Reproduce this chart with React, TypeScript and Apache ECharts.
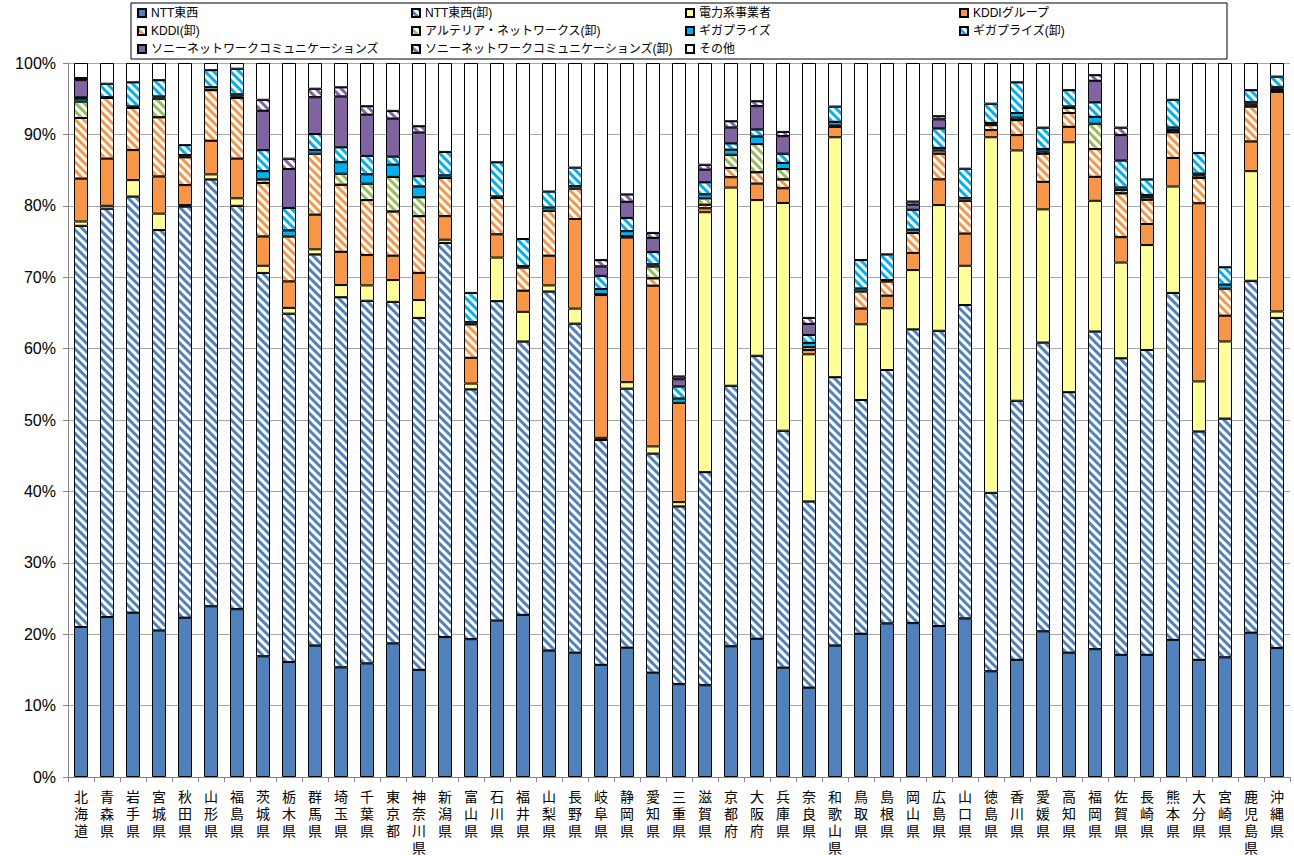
import React, { useEffect, useRef } from "react";
import * as echarts from "echarts";

const prefectures = [
  "北海道", "青森県", "岩手県", "宮城県", "秋田県", "山形県", "福島県", "茨城県", "栃木県", "群馬県",
  "埼玉県", "千葉県", "東京都", "神奈川県", "新潟県", "富山県", "石川県", "福井県", "山梨県", "長野県",
  "岐阜県", "静岡県", "愛知県", "三重県", "滋賀県", "京都府", "大阪府", "兵庫県", "奈良県", "和歌山県",
  "鳥取県", "島根県", "岡山県", "広島県", "山口県", "徳島県", "香川県", "愛媛県", "高知県", "福岡県",
  "佐賀県", "長崎県", "熊本県", "大分県", "宮崎県", "鹿児島県", "沖縄県",
];

const yTicks = [0, 10, 20, 30, 40, 50, 60, 70, 80, 90, 100];

const nttEastWest = [
  21.0, 22.4, 23.0, 20.5, 22.3, 23.9, 23.5, 16.9, 16.1, 18.4,
  15.35, 15.9, 18.7, 15.0, 19.6, 19.3, 21.9, 22.7, 17.7, 17.4,
  15.7, 18.1, 14.6, 13.0, 12.85, 18.3, 19.35, 15.3, 12.5, 18.4,
  20.05, 21.5, 21.55, 21.15, 22.2, 14.8, 16.4, 20.4, 17.4, 17.9,
  17.1, 17.1, 19.2, 16.4, 16.75, 20.2, 18.05,
];
const nttWholesale = [
  56.2, 57.2, 58.3, 56.1, 57.6, 59.8, 56.5, 53.7, 48.8, 54.8,
  51.85, 50.8, 47.85, 49.3, 55.2, 35.0, 44.75, 38.3, 50.3, 46.1,
  31.5, 36.3, 30.7, 24.9, 29.85, 36.5, 39.65, 33.2, 26.1, 37.6,
  32.75, 35.5, 41.15, 41.35, 43.9, 25.0, 36.3, 40.45, 36.5, 44.5,
  41.55, 42.7, 48.6, 32.0, 33.45, 49.3, 46.25,
];
const powerCompanies = [
  0.6, 0.4, 2.3, 2.3, 0.2, 0.7, 1.05, 1.0, 0.8, 0.7,
  1.7, 2.15, 3.05, 2.5, 0.45, 0.8, 6.1, 4.15, 0.85, 2.1,
  0.3, 0.9, 1.0, 0.6, 36.4, 27.75, 21.8, 31.9, 20.6, 33.6,
  10.6, 8.65, 8.3, 17.6, 5.5, 49.8, 35.05, 18.65, 35.0, 18.3,
  13.4, 14.7, 14.9, 7.0, 10.8, 15.35, 0.9,
];
const kddiGroup = [
  6.0, 6.6, 4.2, 5.2, 2.8, 4.7, 5.55, 4.1, 3.7, 4.85,
  4.65, 4.25, 3.4, 3.8, 3.3, 3.6, 3.25, 2.95, 4.15, 12.55,
  20.0, 20.25, 22.5, 13.9, 0.55, 1.45, 2.3, 2.05, 0.6, 1.45,
  2.2, 1.75, 2.4, 3.6, 4.5, 1.0, 2.15, 3.85, 2.15, 3.35,
  3.55, 2.95, 4.0, 24.95, 3.6, 4.15, 30.75,
];
const kddiWholesale = [
  8.5, 8.5, 5.9, 8.3, 3.9, 7.1, 8.5, 7.5, 6.3, 8.55,
  9.4, 7.7, 6.2, 7.95, 5.35, 4.7, 5.1, 3.25, 6.3, 4.25,
  0.15, 0.2, 1.05, 0, 0.5, 1.3, 1.6, 1.25, 0.4, 0.2,
  2.4, 2.0, 2.8, 3.6, 4.6, 0.7, 2.1, 3.95, 1.95, 3.9,
  6.15, 3.4, 3.6, 3.55, 3.8, 4.9, 0.2,
];
const arteriaWholesale = [
  2.3, 0, 0, 2.6, 0, 0.4, 0.2, 0.5, 0, 0,
  1.55, 2.3, 4.85, 2.65, 0, 0, 0, 0, 0, 0,
  0, 0, 1.65, 0, 0.9, 1.85, 3.95, 1.45, 0, 0,
  0, 0, 0, 0.45, 0, 0, 0.35, 0.3, 0.7, 3.55,
  0.45, 0.35, 0.3, 0.35, 0, 0.3, 0.25,
];
const gigaprize = [
  0.4, 0.1, 0.2, 0.3, 0.3, 0, 0.3, 1.15, 0.85, 0.5,
  1.6, 1.3, 1.7, 1.5, 0.35, 0.3, 0.2, 0.2, 0.45, 0.35,
  0.7, 0.7, 0.3, 0.6, 0.55, 0.7, 1.05, 0.85, 0.6, 0.5,
  0.4, 0.2, 0.45, 0.35, 0.35, 0.3, 0.65, 0.35, 0.2, 0.95,
  0.35, 0.3, 0.35, 0.25, 0.55, 0.3, 0.2,
];
const gigaprizeWholesale = [
  0.2, 1.9, 3.4, 2.3, 1.4, 2.4, 3.6, 2.95, 3.15, 2.25,
  2.1, 2.6, 1.15, 1.45, 3.3, 4.1, 4.8, 3.8, 2.25, 2.6,
  1.85, 1.85, 1.75, 1.7, 1.7, 0.9, 1.0, 1.3, 1.1, 2.15,
  4.0, 3.6, 2.8, 2.75, 4.15, 2.7, 4.3, 3.0, 2.3, 2.05,
  3.8, 2.2, 3.9, 2.9, 2.45, 1.7, 1.5,
];
const sonyNetwork = [
  2.4, 0, 0, 0, 0, 0, 0, 5.5, 5.45, 5.15,
  7.1, 5.75, 5.3, 6.1, 0, 0, 0, 0, 0, 0,
  1.3, 2.25, 1.95, 1.0, 1.75, 2.2, 3.25, 2.45, 1.55, 0,
  0, 0, 0.7, 1.25, 0, 0, 0, 0, 0, 3.0,
  3.55, 0, 0, 0, 0, 0, 0,
];
const sonyNetworkWholesale = [
  0.3, 0, 0, 0, 0, 0, 0, 1.55, 1.45, 1.2,
  1.3, 1.2, 1.1, 0.9, 0, 0, 0, 0, 0, 0,
  0.9, 1.05, 0.7, 0.4, 0.7, 0.9, 0.7, 0.6, 0.85, 0,
  0, 0, 0.45, 0.45, 0, 0, 0, 0, 0, 0.8,
  1.05, 0, 0, 0, 0, 0, 0,
];
const others = [
  2.1, 2.9, 2.7, 2.4, 11.5, 1.0, 0.8, 5.15, 13.4, 3.6,
  3.4, 6.05, 6.7, 8.85, 12.45, 32.2, 13.9, 24.65, 18.0, 14.65,
  27.6, 18.4, 23.8, 43.9, 14.25, 8.15, 5.35, 9.65, 35.7, 6.1,
  27.6, 26.8, 19.4, 7.45, 14.8, 5.7, 2.7, 9.05, 3.8, 1.7,
  9.05, 16.3, 5.15, 12.6, 28.6, 3.8, 1.9,
];

const seriesDefs = [
  { name: "NTT東西", data: nttEastWest, color: "#4F81BD", hatch: false },
  { name: "NTT東西(卸)", data: nttWholesale, color: "#4F81BD", hatch: true },
  { name: "電力系事業者", data: powerCompanies, color: "#FFFF99", hatch: false },
  { name: "KDDIグループ", data: kddiGroup, color: "#F79646", hatch: false },
  { name: "KDDI(卸)", data: kddiWholesale, color: "#F79646", hatch: true },
  { name: "アルテリア・ネットワークス(卸)", data: arteriaWholesale, color: "#9BBB59", hatch: true },
  { name: "ギガプライズ", data: gigaprize, color: "#00B0F0", hatch: false },
  { name: "ギガプライズ(卸)", data: gigaprizeWholesale, color: "#00B0F0", hatch: true },
  { name: "ソニーネットワークコミュニケーションズ", data: sonyNetwork, color: "#8064A2", hatch: false },
  { name: "ソニーネットワークコミュニケーションズ(卸)", data: sonyNetworkWholesale, color: "#8064A2", hatch: true },
  { name: "その他", data: others, color: "#FFFFFF", hatch: false },
];

const legendColumns = [
  ["NTT東西", "KDDI(卸)", "ソニーネットワークコミュニケーションズ"],
  ["NTT東西(卸)", "アルテリア・ネットワークス(卸)", "ソニーネットワークコミュニケーションズ(卸)"],
  ["電力系事業者", "ギガプライズ", "その他"],
  ["KDDIグループ", "ギガプライズ(卸)"],
];
const legendLefts = [137, 411, 685, 959];

const FONT = "'Liberation Sans', Arial, 'Noto Sans CJK JP', sans-serif";

export default function App() {
  const ref = useRef<HTMLDivElement>(null);

  useEffect(() => {
    if (!ref.current) return;
    const chart = echarts.init(ref.current, undefined, { renderer: "svg" });

    const series = seriesDefs.map((s) => ({
      name: s.name,
      type: "bar",
      stack: "total",
      barWidth: 14,
      data: s.data.map((v) => (v === 0 ? null : v)),
      itemStyle: s.hatch
        ? {
            color: "#FFFFFF",
            borderColor: "#000000",
            borderWidth: 1,
            decal: {
              symbol: "rect",
              symbolSize: 1,
              dashArrayX: [1, 0],
              dashArrayY: [3, 3],
              rotation: Math.PI / 4,
              color: s.color,
              backgroundColor: "#FFFFFF",
            },
          }
        : { color: s.color, borderColor: "#000000", borderWidth: 1 },
    }));

    const legends = legendColumns.map((names, i) => ({
      data: names,
      left: legendLefts[i],
      top: 4,
      orient: "vertical",
      icon: "rect",
      itemWidth: 8,
      itemHeight: 8,
      itemGap: 0,
      padding: 0,
      selectedMode: false,
      textStyle: { fontSize: 12, lineHeight: 18, color: "#000", fontFamily: FONT },
    }));

    chart.setOption({
      animation: false,
      backgroundColor: "#FFFFFF",
      grid: { left: 68, right: 4, top: 63, bottom: 70, containLabel: false },
      legend: legends,
      graphic: [
        {
          type: "rect",
          shape: { x: 131, y: 3, width: 1096, height: 56 },
          style: { fill: "none", stroke: "#000", lineWidth: 1 },
          z: 10,
        },
      ],
      xAxis: {
        type: "category",
        data: prefectures,
        axisLine: { lineStyle: { color: "#868686" } },
        axisTick: { show: true, length: 5, lineStyle: { color: "#868686" } },
        axisLabel: {
          interval: 0,
          margin: 11,
          fontSize: 14,
          lineHeight: 17,
          color: "#000",
          fontFamily: FONT,
          formatter: (v: string) => v.split("").join("\n"),
        },
      },
      yAxis: {
        type: "value",
        min: yTicks[0],
        max: yTicks[yTicks.length - 1],
        interval: yTicks[1] - yTicks[0],
        axisLine: { show: true, lineStyle: { color: "#868686" } },
        axisTick: { show: true, length: 5, lineStyle: { color: "#868686" } },
        splitLine: { lineStyle: { color: "#A6A6A6" } },
        axisLabel: {
          margin: 12,
          fontSize: 16,
          color: "#000",
          fontFamily: FONT,
          formatter: "{value}%",
        },
      },
      series,
    });

    return () => chart.dispose();
  }, []);

  return (
    <div
      ref={ref}
      style={{ position: "absolute", left: 0, top: 0, width: 1294, height: 856 }}
    />
  );
}
